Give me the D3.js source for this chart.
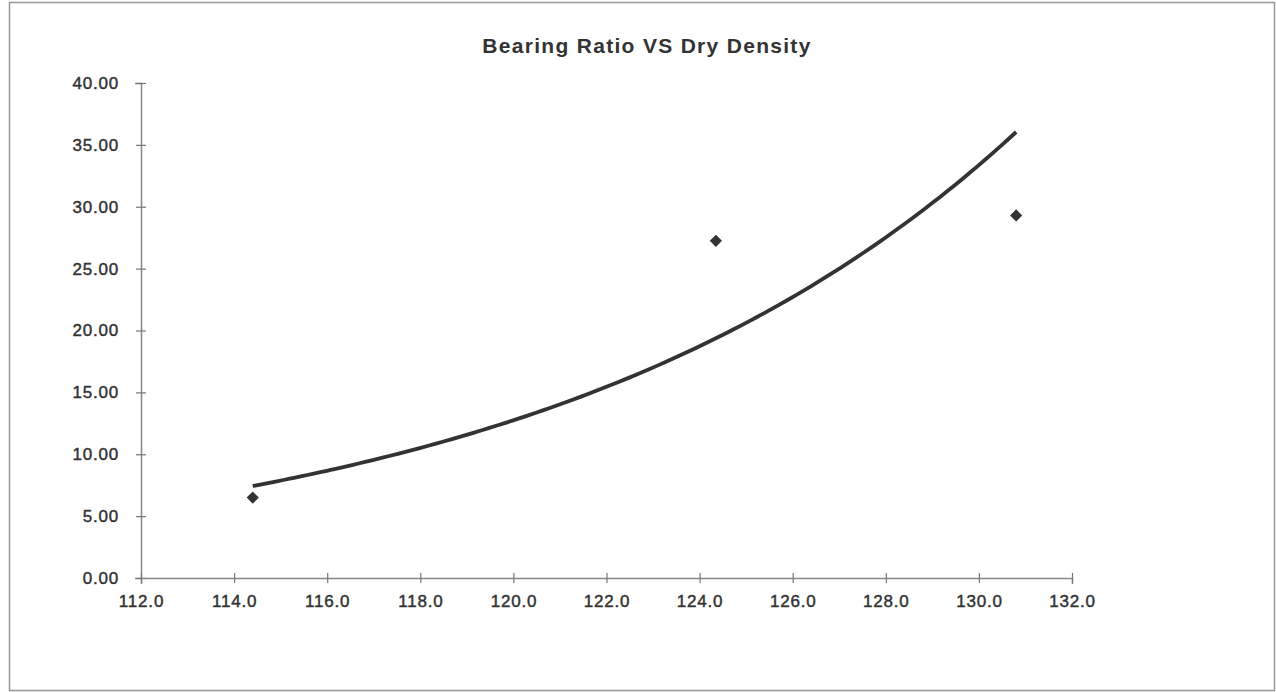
<!DOCTYPE html>
<html>
<head>
<meta charset="utf-8">
<script src="https://cdn.jsdelivr.net/npm/d3@7"></script>
<style>
  body { margin: 0; background: #fff; }
  text { font-family: "Liberation Sans", Arial, sans-serif; fill: #333; }
</style>
</head>
<body>
<div id="chart"></div>
<script>
const title = "Bearing Ratio VS Dry Density"
const dryDensity = [114.4, 124.35, 130.8]
const bearingRatio = [6.5, 27.25, 29.3]
const xTicks = [112, 114, 116, 118, 120, 122, 124, 126, 128, 130, 132]
const yTicks = [0, 5, 10, 15, 20, 25, 30, 35, 40]

const width = 1276
const height = 692

const svg = d3.select("#chart")
  .append("svg")
    .attr("width", width)
    .attr("height", height)

// outer frame
svg.append("rect")
  .attr("x", 9.5).attr("y", 2.5)
  .attr("width", 1265).attr("height", 688)
  .attr("fill", "none")
  .attr("stroke", "#999")
  .attr("stroke-width", 1.5)

const x = d3.scaleLinear().domain([112, 132]).range([141, 1072])
const y = d3.scaleLinear().domain([0, 40]).range([578, 83])

// exponential trendline (least squares on ln y, like the spreadsheet does)
const lnY = bearingRatio.map(Math.log)
const mx = d3.mean(dryDensity), my = d3.mean(lnY)
const b = d3.sum(dryDensity, (d, i) => (d - mx) * (lnY[i] - my)) / d3.sum(dryDensity, d => (d - mx) ** 2)
const a = my - b * mx
const xMin = d3.min(dryDensity), xMax = d3.max(dryDensity)
const trend = d3.range(0, 101).map(i => {
  const xv = xMin + (xMax - xMin) * i / 100
  return [xv, Math.exp(a + b * xv)]
})

// axes
const yAxis = svg.append("g")
  .attr("transform", `translate(${x(112)},0)`)
  .call(d3.axisLeft(y).tickValues(yTicks).tickFormat(d3.format(".2f")).tickSizeInner(0).tickPadding(22))
const xAxis = svg.append("g")
  .attr("transform", `translate(0,${y(0)})`)
  .call(d3.axisBottom(x).tickValues(xTicks).tickFormat(d3.format(".1f")).tickSizeInner(0).tickPadding(17))

for (const g of [yAxis, xAxis]) {
  g.select(".domain").attr("stroke", "#888").attr("stroke-width", 1.5)
  g.selectAll("text")
    .attr("font-size", 17)
    .attr("letter-spacing", 0.8)
    .attr("fill", "#333")
    .attr("stroke", "#333")
    .attr("stroke-width", 0.45)
    .attr("font-family", "Liberation Sans, Arial, sans-serif")
}

// cross ticks
yAxis.selectAll(".tick line").attr("x1", -5).attr("x2", 5).attr("stroke", "#777").attr("stroke-width", 1.2)
xAxis.selectAll(".tick line").attr("y1", -5).attr("y2", 5).attr("stroke", "#777").attr("stroke-width", 1.2)

// title
svg.append("text")
  .attr("x", 647)
  .attr("y", 53)
  .attr("text-anchor", "middle")
  .attr("font-size", 21)
  .attr("font-weight", "bold")
  .attr("letter-spacing", 1.3)
  .text(title)

// trendline
svg.append("path")
  .datum(trend)
  .attr("fill", "none")
  .attr("stroke", "#333")
  .attr("stroke-width", 3.8)
  .attr("d", d3.line().x(d => x(d[0])).y(d => y(d[1])).curve(d3.curveMonotoneX))

// data points (diamonds)
svg.append("g")
  .selectAll("path")
  .data(dryDensity.map((d, i) => [d, bearingRatio[i]]))
  .join("path")
    .attr("transform", d => `translate(${x(d[0])},${y(d[1])})`)
    .attr("d", d3.symbol(d3.symbolDiamond2, 95))
    .attr("fill", "#333")
</script>
</body>
</html>
